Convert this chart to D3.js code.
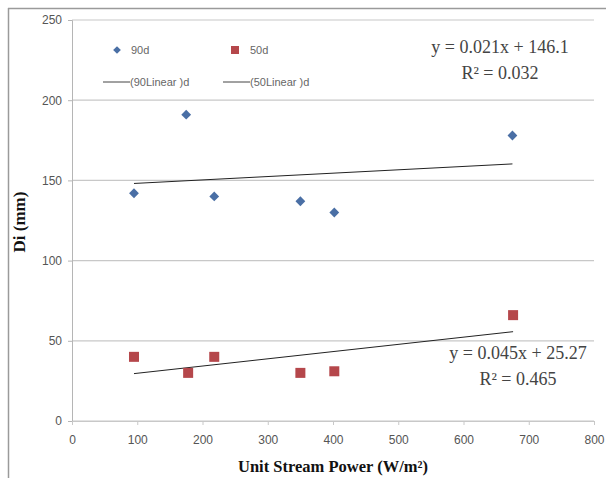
<!DOCTYPE html>
<html><head><meta charset="utf-8">
<script src="https://cdn.jsdelivr.net/npm/d3@7"></script>
<style>body{margin:0;background:#fff}svg{display:block}</style>
</head><body>
<svg id="c" width="606" height="478"></svg>
<script>
const xTicks = [0,100,200,300,400,500,600,700,800];
const yTicks = [0,50,100,150,200,250];
const x90 = [95,175,218,350,402,675];
const y90 = [142,191,140,137,130,178];
const x50 = [95,178,218,350,402,676];
const y50 = [40,30,40,30,31,66];
const fit90 = {slope:0.021, intercept:146.1, label:"y = 0.021x + 146.1", r2:"R² = 0.032"};
const fit50 = {slope:0.045, intercept:25.27, label:"y = 0.045x + 25.27", r2:"R² = 0.465"};
const legendLabels = ["90d","50d","(90Linear )d","(50Linear )d"];

const svg = d3.select("#c");
const x = d3.scaleLinear().domain([0,800]).range([72,594]);
const y = d3.scaleLinear().domain([0,250]).range([421,20]);

// outer frame
svg.append("line").attr("x1",8).attr("x2",606).attr("y1",8.5).attr("y2",8.5).attr("stroke","#9a9a9a").attr("stroke-width",1.5);
svg.append("line").attr("x1",8.5).attr("x2",8.5).attr("y1",8).attr("y2",478).attr("stroke","#9a9a9a").attr("stroke-width",1.5);

// gridlines
svg.append("g").selectAll("line").data(yTicks).join("line")
  .attr("x1",x(0)).attr("x2",x(800)).attr("y1",d=>y(d)).attr("y2",d=>y(d))
  .attr("stroke","#c8c8c8").attr("stroke-width",1.2);

// y axis
const ya = svg.append("g").attr("transform",`translate(${x(0)},0)`)
  .call(d3.axisLeft(y).tickValues(yTicks).tickSize(4).tickPadding(6));
ya.select(".domain").attr("stroke","#b5b5b5");
ya.selectAll(".tick line").attr("stroke","#b5b5b5");
ya.selectAll("text").attr("font-family","Arial, 'Liberation Sans', sans-serif").attr("font-size",12).attr("fill","#555");

// x axis
const xa = svg.append("g").attr("transform",`translate(0,${y(0)})`)
  .call(d3.axisBottom(x).tickValues(xTicks).tickSize(4).tickPadding(10));
xa.select(".domain").attr("stroke","#c8c8c8");
xa.selectAll(".tick line").attr("stroke","#c8c8c8");
xa.selectAll("text").attr("font-family","Arial, 'Liberation Sans', sans-serif").attr("font-size",12).attr("fill","#555");

// trendlines
function trend(f, xs){
  const x0 = d3.min(xs), x1 = d3.max(xs);
  svg.append("line").attr("x1",x(x0)).attr("x2",x(x1))
    .attr("y1",y(f.slope*x0+f.intercept)).attr("y2",y(f.slope*x1+f.intercept))
    .attr("stroke","#222").attr("stroke-width",1);
}
trend(fit90,x90); trend(fit50,x50);

// points
const diamond = d3.symbol().type(d3.symbolSquare).size(48);
svg.append("g").selectAll("path").data(x90.map((v,i)=>[v,y90[i]])).join("path")
  .attr("d",diamond).attr("transform",d=>`translate(${x(d[0])},${y(d[1])}) rotate(45)`).attr("fill","#4a6fa5");
svg.append("g").selectAll("rect").data(x50.map((v,i)=>[v,y50[i]])).join("rect")
  .attr("x",d=>x(d[0])-5).attr("y",d=>y(d[1])-5).attr("width",10).attr("height",10).attr("fill","#b5474b");

// legend
const lf = "Arial, 'Liberation Sans', sans-serif";
svg.append("path").attr("d",d3.symbol().type(d3.symbolSquare).size(30)).attr("transform","translate(117,50) rotate(45)").attr("fill","#4a6fa5");
svg.append("text").attr("x",131).attr("y",54).text(legendLabels[0]).attr("font-family",lf).attr("font-size",11).attr("fill","#666");
svg.append("rect").attr("x",231).attr("y",46).attr("width",8).attr("height",8).attr("fill","#b5474b");
svg.append("text").attr("x",250).attr("y",54).text(legendLabels[1]).attr("font-family",lf).attr("font-size",11).attr("fill","#666");
svg.append("line").attr("x1",103).attr("x2",130).attr("y1",82).attr("y2",82).attr("stroke","#444");
svg.append("text").attr("x",130).attr("y",86).text(legendLabels[2]).attr("font-family",lf).attr("font-size",11).attr("fill","#666");
svg.append("line").attr("x1",223).attr("x2",250).attr("y1",82).attr("y2",82).attr("stroke","#444");
svg.append("text").attr("x",250).attr("y",86).text(legendLabels[3]).attr("font-family",lf).attr("font-size",11).attr("fill","#666");

// equations
const sf = "'Liberation Serif','Times New Roman',serif";
function eq(f, cx, y1){
  svg.append("text").attr("x",cx).attr("y",y1).attr("text-anchor","middle").text(f.label)
    .attr("font-family",sf).attr("font-size",18).attr("fill","#444");
  svg.append("text").attr("x",cx).attr("y",y1+26).attr("text-anchor","middle").text(f.r2)
    .attr("font-family",sf).attr("font-size",18).attr("fill","#444");
}
eq(fit90, 500, 53);
eq(fit50, 518, 359);

// axis titles
svg.append("text").attr("x",333).attr("y",472).attr("text-anchor","middle")
  .text("Unit Stream Power (W/m²)").attr("font-family",sf).attr("font-weight","bold").attr("font-size",16.5).attr("fill","#111");
svg.append("text").attr("transform","translate(25,222) rotate(-90)").attr("text-anchor","middle")
  .text("Di (mm)").attr("font-family",sf).attr("font-weight","bold").attr("font-size",17).attr("fill","#111");
</script>
</body></html>
